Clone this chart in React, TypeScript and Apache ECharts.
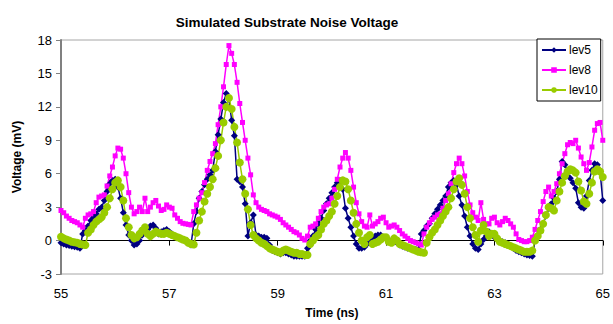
import React, { useEffect, useRef } from "react";
import * as echarts from "echarts";

// Sampling grid: 55.00 ns to 65.00 ns, step 0.05 ns (201 samples)
const T_START = 55;
const T_STEP = 0.05;

const xTicks = [55, 57, 59, 61, 63, 65];
const yTicks = [-3, 0, 3, 6, 9, 12, 15, 18];

const lev5 = [
  -0.2, -0.3, -0.4, -0.45, -0.5, -0.55, -0.6, -0.7, 0.6, 0.9,
  1.3, 1.8, 2.1, 2.4, 2.8, 3.0, 3.6, 4.4, 5.1, 5.4,
  5.5, 4.8, 3.8, 2.5, 1.4, 0.5, 0.0, -0.4, -0.3, 0.0,
  0.5, 0.9, 1.0, 1.3, 1.4, 1.1, 0.6, 0.8, 0.9, 1.0,
  0.8, 0.6, 0.4, 0.3, 0.2, 0.1, 0.0, -0.2, -0.4, 1.5,
  2.6, 3.8, 4.4, 5.0, 5.5, 5.9, 6.3, 8.0, 9.5, 10.9,
  12.4, 13.2, 12.7, 10.8, 9.4, 5.5, 5.3, 4.8, 3.3, 0.4,
  1.6, 2.3, 0.5, 0.4, 0.3, 0.3, 0.2, -0.4, -0.9, -1.0,
  -1.1, -1.2, -1.1, -1.1, -1.2, -1.3, -1.4, -1.4, -1.4, -1.4,
  -1.4, -0.7, 0.0, 0.4, 1.0, 1.5, 2.0, 2.7, 3.3, 3.8,
  4.3, 4.8, 5.2, 5.4, 4.6, 2.9, 2.0, 1.2, 0.4, -0.3,
  -0.7, -0.7, -0.6, -0.3, -0.1, 0.2, 0.4, 0.5, 0.5, 0.3,
  0.2, 0.05, 0.0, -0.1, -0.2, -0.4, -0.5, -0.6, -0.7, -0.7,
  -0.8, -0.8, -0.8, 0.6, 0.9, 1.3, 1.5, 2.0, 2.4, 2.8,
  3.2, 3.6, 4.0, 4.8, 5.2, 5.4, 5.0, 4.0, 3.2, 2.2,
  1.2, 0.4, -0.3, -0.7, -0.8, -0.3, 0.1, 0.4, 0.8, 0.6,
  0.3, 0.05, 0.0, -0.1, -0.2, -0.3, -0.5, -0.7, -0.9, -1.0,
  -1.1, -1.2, -1.3, -1.35, -1.4, 0.0, 0.5, 1.0, 1.5, 2.2,
  2.9, 3.3, 3.8, 4.4, 5.5, 7.1, 6.8, 6.2, 5.6, 5.2,
  4.7, 3.4, 3.0, 2.9, 4.0, 5.4, 6.3, 6.9, 6.8, 6.2,
  3.6,
];

const lev8 = [
  2.7, 2.5, 2.2, 2.0, 1.8, 1.7, 1.6, 1.4, 1.2, 2.0,
  2.3, 2.4, 2.6, 3.4, 3.9, 4.0, 4.1, 4.9, 5.8, 6.6,
  7.6, 8.3, 8.2, 7.4, 6.0, 4.3, 3.0, 2.4, 2.6, 3.0,
  2.6, 3.8, 2.6, 3.0, 3.4, 3.6, 3.1, 2.7, 2.8, 3.2,
  3.0, 2.9, 2.3, 2.0, 1.7, 1.55, 1.5, 1.45, 1.4, 2.6,
  3.2, 3.8, 4.3, 5.2, 6.3, 7.1, 7.8, 8.7, 10.4, 12.0,
  13.8, 15.8, 17.5, 16.8, 15.8, 14.2, 12.3, 10.6, 9.0, 7.4,
  5.9, 4.1, 3.4, 3.0, 2.8, 2.7, 2.6, 2.4, 2.3, 2.2,
  2.1, 1.9, 1.6, 1.4, 1.2, 1.0, 0.8, 0.7, 0.5, 0.2,
  0.05, 0.4, 1.2, 1.3, 1.5, 2.0, 2.6, 3.0, 3.2, 3.3,
  3.8, 4.6, 5.5, 6.6, 7.4, 7.9, 7.4, 6.3, 4.8, 3.4,
  2.4, 1.7, 1.3, 1.2, 2.3, 1.3, 1.5, 1.7, 2.0, 2.1,
  1.6, 1.2, 1.3, 1.4, 1.2, 0.9, 0.6, 0.4, 0.2, 0.0,
  -0.1, -0.2, -0.3, -0.4, 0.6, 1.2, 1.6, 1.9, 2.1, 2.3,
  2.4, 2.9, 3.6, 4.2, 5.1, 6.1, 6.9, 7.4, 6.9, 5.8,
  4.4, 3.2, 2.5, 2.1, 1.8, 3.4, 1.9, 1.5, 1.5, 2.0,
  2.1, 1.6, 1.4, 1.7, 2.0, 1.8, 1.5, 1.2, 0.6, 0.1,
  0.0, -0.1, -0.1, 0.0, 0.3, 1.0, 1.8, 2.6, 3.5, 4.4,
  4.8, 4.0, 4.4, 5.1, 6.0, 6.9, 7.8, 8.6, 8.8, 8.7,
  9.0, 8.3, 7.5, 6.9, 6.3, 7.0, 8.4, 9.9, 10.5, 10.6,
  9.0,
];

const lev10 = [
  0.35, 0.2, 0.1, 0.0, -0.1, -0.15, -0.2, -0.3, -0.35, -0.4,
  0.7, 1.0, 1.4, 1.7, 1.9, 2.1, 2.5, 3.0, 3.8, 4.6,
  5.2, 5.4, 4.8, 3.6, 2.0, 1.2, 0.5, 0.2, 0.3, 0.6,
  0.9, 1.2, 0.6, 0.4, 0.6, 0.8, 0.7, 0.6, 0.6, 0.7,
  0.6, 0.5, 0.4, 0.3, 0.2, 0.1, 0.0, -0.2, -0.3, -0.35,
  0.7, 1.8, 2.6, 3.5, 4.2, 4.8, 5.5, 6.5, 7.6, 9.0,
  10.6, 12.0, 12.8, 11.8, 10.2, 8.8, 7.0, 5.5, 4.2, 2.8,
  1.4, 0.5, 0.2, 0.0, -0.2, -0.3, -0.5, -0.7, -0.8, -0.9,
  -1.0, -1.1, -0.9, -0.8, -0.9, -1.0, -1.1, -1.1, -1.2, -1.2,
  -1.3, -1.3, -0.3, 0.0, 0.3, 0.5, 1.0, 1.5, 1.8, 2.2,
  2.6, 3.3, 4.0, 4.8, 5.4, 5.3, 4.6, 3.6, 2.5, 1.5,
  0.7, 0.0, -0.3, 0.3, 0.5, -0.3, -0.2, -0.1, 0.1, 0.3,
  0.3, -0.1, -0.2, 0.2, 0.0, -0.3, -0.4, -0.5, -0.6, -0.7,
  -0.8, -0.9, -1.0, -1.05, -1.1, -0.2, 0.3, 0.7, 1.0, 1.4,
  1.8, 2.2, 2.6, 3.0, 3.8, 4.6, 5.3, 5.6, 5.0, 4.2,
  3.0, 2.0, 1.2, 0.5, -0.1, 0.9, 1.4, 0.8, 0.4, 0.6,
  0.6, 0.2, -0.1, -0.2, -0.3, -0.4, -0.5, -0.6, -0.7, -0.8,
  -0.9, -1.0, -1.0, -1.0, -0.9, 0.0, 0.4, 0.9, 1.5, 2.3,
  3.0, 2.9, 2.7, 3.6, 4.4, 5.2, 5.8, 6.2, 6.4, 6.3,
  6.1, 5.3, 4.5, 3.5, 3.3, 4.2, 5.2, 6.2, 6.4, 6.2,
  5.7,
];

const time = lev5.map((_, i) => +(T_START + i * T_STEP).toFixed(2));
const pairs = (vals: number[]) => vals.map((v, i) => [time[i], v]);

const FONT = "Arial, 'Liberation Sans', sans-serif";

export default function App() {
  const ref = useRef<HTMLDivElement>(null);
  useEffect(() => {
    if (!ref.current) return;
    const chart = echarts.init(ref.current, null, { renderer: "svg" });
    chart.setOption({
      animation: false,
      backgroundColor: "#fff",
      textStyle: { fontFamily: FONT },
      title: {
        text: "Simulated Substrate Noise Voltage",
        left: 282,
        textAlign: "center",
        top: 10,
        textStyle: { fontSize: 13.5, fontWeight: "bold", color: "#000", fontFamily: FONT },
      },
      legend: {
        orient: "vertical",
        left: 537,
        top: 39,
        itemWidth: 24,
        itemHeight: 7,
        itemGap: 8,
        padding: [5, 3, 5, 4],
        borderColor: "#000",
        borderWidth: 1,
        backgroundColor: "#fff",
        textStyle: { fontSize: 12, color: "#000", fontFamily: FONT, padding: [0, 0, 0, -2] },
        data: ["lev5", "lev8", "lev10"],
      },
      grid: {
        left: 61,
        right: 8,
        top: 40,
        bottom: 46,
        show: true,
        borderColor: "#a6a6a6",
        borderWidth: 1,
        backgroundColor: "#fff",
      },
      xAxis: {
        type: "value",
        min: xTicks[0],
        max: xTicks[xTicks.length - 1],
        interval: 2,
        name: "Time (ns)",
        nameLocation: "middle",
        nameGap: 33,
        nameTextStyle: { fontSize: 12, fontWeight: "bold", color: "#000", fontFamily: FONT },
        axisLine: { show: true, lineStyle: { color: "#000", width: 1 } },
        axisTick: { show: true, length: 5, lineStyle: { color: "#000" } },
        axisLabel: { fontSize: 13, color: "#000", margin: 13, fontFamily: FONT },
        splitLine: { show: false },
      },
      yAxis: {
        type: "value",
        min: yTicks[0],
        max: yTicks[yTicks.length - 1],
        interval: 3,
        name: "Voltage (mV)",
        nameLocation: "middle",
        nameGap: 38,
        nameTextStyle: { fontSize: 12, fontWeight: "bold", color: "#000", fontFamily: FONT },
        axisLine: { show: true, lineStyle: { color: "#808080", width: 2 } },
        axisTick: { show: true, length: 5, lineStyle: { color: "#808080" } },
        axisLabel: { fontSize: 13, color: "#000", margin: 9, fontFamily: FONT },
        splitLine: { show: false },
      },
      series: [
        {
          name: "lev5",
          type: "line",
          data: pairs(lev5),
          symbol: "diamond",
          symbolSize: 7,
          lineStyle: { color: "#000080", width: 1.5 },
          itemStyle: { color: "#000080" },
        },
        {
          name: "lev8",
          type: "line",
          data: pairs(lev8),
          symbol: "rect",
          symbolSize: 5,
          lineStyle: { color: "#FF00FF", width: 1.5 },
          itemStyle: { color: "#FF00FF" },
        },
        {
          name: "lev10",
          type: "line",
          data: pairs(lev10),
          symbol: "circle",
          symbolSize: 8,
          lineStyle: { color: "#99CC00", width: 1.5 },
          itemStyle: { color: "#99CC00" },
        },
      ],
    });
    return () => chart.dispose();
  }, []);
  return (
    <div
      ref={ref}
      style={{ position: "fixed", left: 0, top: 0, width: 613, height: 324, background: "#fff" }}
    />
  );
}
